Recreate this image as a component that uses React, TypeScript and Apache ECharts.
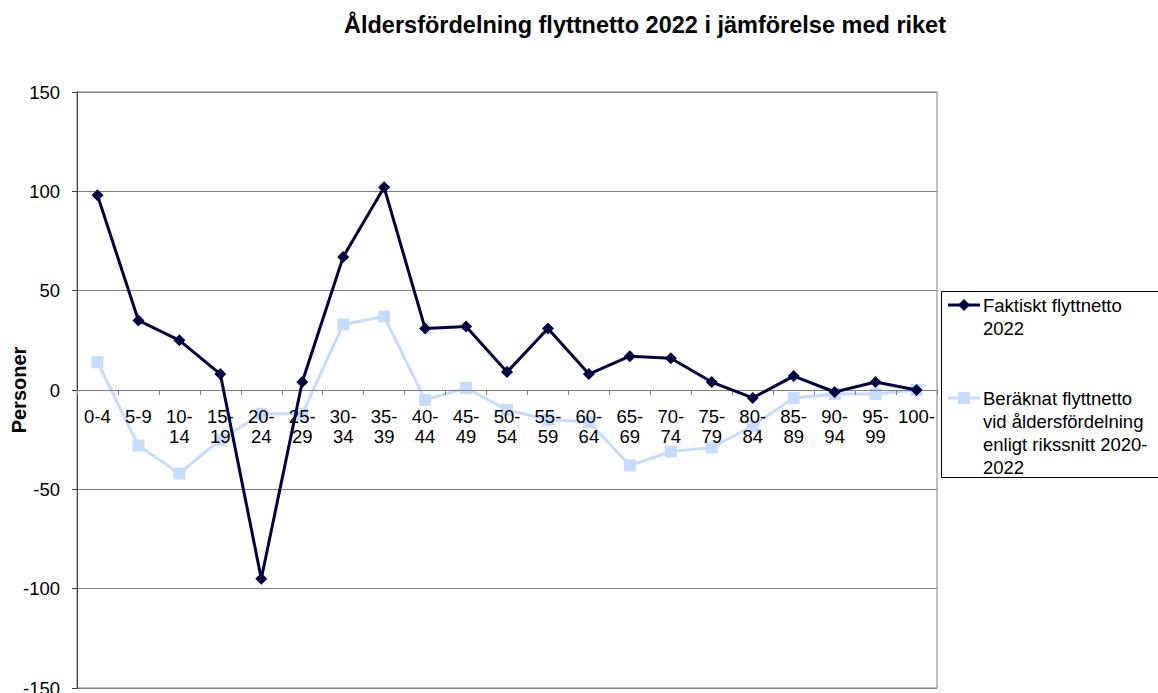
import React, { useEffect, useRef } from "react";
import * as echarts from "echarts";

const categories = ["0-4","5-9","10-14","15-19","20-24","25-29","30-34","35-39","40-44","45-49","50-54","55-59","60-64","65-69","70-74","75-79","80-84","85-89","90-94","95-99","100-"];
const faktiskt = [98, 35, 25, 8, -95, 4, 67, 102, 31, 32, 9, 31, 8, 17, 16, 4, -4, 7, -1, 4, 0];
const beraknat = [14, -28, -42, -25, -12, -12, 33, 37, -5, 1, -10, -15, -16, -38, -31, -29, -18, -4, -2, -2, 0];
const seriesNames = ["Faktiskt flyttnetto 2022", "Beräknat flyttnetto vid åldersfördelning enligt rikssnitt 2020-2022"];
const legendLines = [["Faktiskt flyttnetto", "2022"], ["Beräknat flyttnetto", "vid åldersfördelning", "enligt rikssnitt 2020-", "2022"]];
const title = "Åldersfördelning flyttnetto 2022 i jämförelse med riket";
const yName = "Personer";
const yMin = -150;
const yMax = 150;

const FONT = "'Liberation Sans', Arial, sans-serif";
const DARK = "#000040";
const LIGHT = "#C6DCFF";

export default function App() {
  const ref = useRef<HTMLDivElement>(null);
  useEffect(() => {
    if (!ref.current) return;
    const chart = echarts.init(ref.current, null, { renderer: "svg" });
    const lx = 941, ly = 291;
    const item1Y = 305, item2Y = 398;
    const lineH = 23;
    const gridTop = 92, gridH = 596;
    const zeroOffset = -gridH * (0 - yMin) / (yMax - yMin);
    chart.setOption({
      animation: false,
      textStyle: { fontFamily: FONT },
      title: {
        text: title,
        left: 640,
        textAlign: "center",
        top: 8,
        textStyle: { fontFamily: FONT, fontSize: 23.5, fontWeight: "bold", color: "#000" },
      },
      grid: { left: 77, top: gridTop, width: 860, height: gridH, show: true, borderColor: "#808080", borderWidth: 1, backgroundColor: "transparent", containLabel: false, outerBoundsMode: "none" },
      xAxis: {
        type: "category",
        data: categories,
        boundaryGap: true,
        offset: zeroOffset,
        z: 2.5,
        axisLine: { onZero: false, lineStyle: { color: "#808080", width: 1 } },
        axisTick: { show: true, inside: false, length: 5, lineStyle: { color: "#808080" } },
        axisLabel: {
          interval: 0,
          margin: 16,
          fontSize: 18.5,
          lineHeight: 20,
          color: "#000",
          fontFamily: FONT,
          formatter: (v: string) => (v.length > 3 && v.indexOf("-") < v.length - 1 ? v.replace("-", "-\n") : v),
        },
        splitLine: { show: false },
      },
      yAxis: {
        type: "value",
        min: yMin,
        max: yMax,
        interval: 50,
        name: yName,
        nameLocation: "middle",
        nameGap: 48,
        nameMoveOverlap: false,
        nameTextStyle: { fontFamily: FONT, fontSize: 20, fontWeight: "bold", color: "#000" },
        axisLine: { show: true, lineStyle: { color: "#404040", width: 1 } },
        axisTick: { show: true, length: 5, lineStyle: { color: "#404040" } },
        axisLabel: { margin: 17, fontSize: 18.5, color: "#000", fontFamily: FONT },
        splitLine: { show: true, lineStyle: { color: "#808080", width: 1 } },
      },
      series: [
        {
          name: seriesNames[1],
          type: "line",
          data: beraknat,
          symbol: "rect",
          symbolSize: 12,
          lineStyle: { color: LIGHT, width: 3 },
          itemStyle: { color: LIGHT },
          z: 2,
        },
        {
          name: seriesNames[0],
          type: "line",
          data: faktiskt,
          symbol: "diamond",
          symbolSize: [12, 12],
          lineStyle: { color: DARK, width: 3 },
          itemStyle: { color: DARK },
          z: 3,
        },
      ],
      graphic: [
        { type: "rect", shape: { x: lx + 0.5, y: ly + 0.5, width: 240, height: 186 }, style: { fill: "#fff", stroke: "#000", lineWidth: 1 }, z: 10 },
        { type: "line", shape: { x1: 948, y1: item1Y, x2: 980, y2: item1Y }, style: { stroke: DARK, lineWidth: 3 }, z: 11 },
        { type: "polygon", shape: { points: [[964, item1Y - 6], [970, item1Y], [964, item1Y + 6], [958, item1Y]] }, style: { fill: DARK }, z: 12 },
        { type: "text", x: 983, y: item1Y - lineH / 2, style: { text: legendLines[0].join("\n"), font: `18.5px ${FONT}`, lineHeight: lineH, fill: "#000", verticalAlign: "top" }, z: 12 },
        { type: "line", shape: { x1: 948, y1: item2Y, x2: 980, y2: item2Y }, style: { stroke: LIGHT, lineWidth: 3 }, z: 11 },
        { type: "rect", shape: { x: 958, y: item2Y - 6, width: 12, height: 12 }, style: { fill: LIGHT }, z: 12 },
        { type: "text", x: 983, y: item2Y - lineH / 2, style: { text: legendLines[1].join("\n"), font: `18.5px ${FONT}`, lineHeight: lineH, fill: "#000", verticalAlign: "top" }, z: 12 },
      ],
    });
    return () => chart.dispose();
  }, []);
  return <div ref={ref} style={{ position: "fixed", left: 0, top: 0, width: 1158, height: 693, background: "#fff" }} />;
}
